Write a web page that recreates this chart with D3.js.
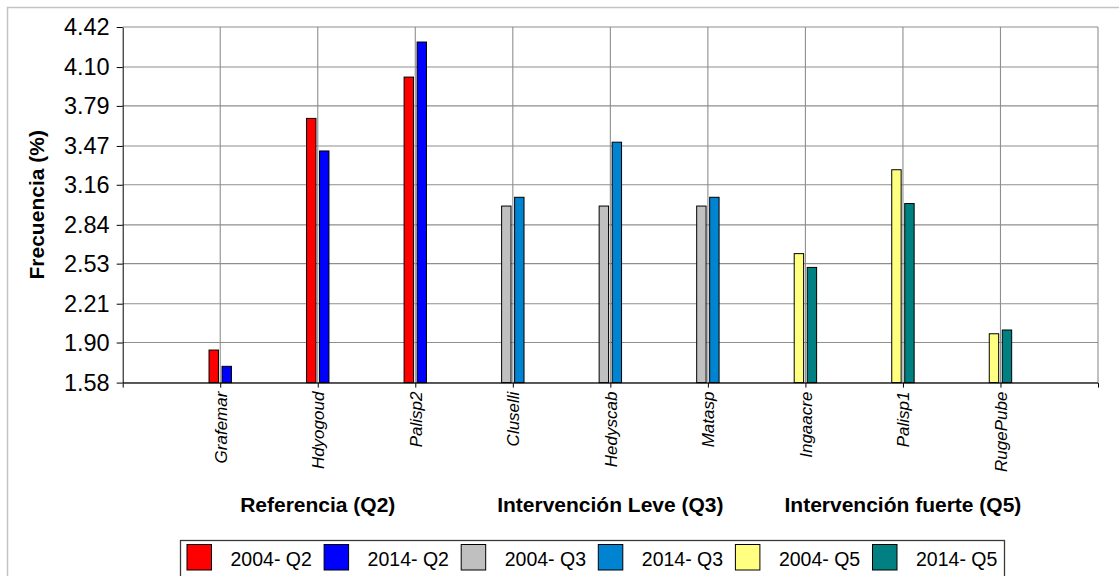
<!DOCTYPE html>
<html>
<head>
<meta charset="utf-8">
<script src="https://cdn.jsdelivr.net/npm/d3@7"></script>
<style>
  html, body { margin: 0; padding: 0; background: #fff; }
  svg { display: block; font-family: "Liberation Sans", Arial, sans-serif; }
</style>
</head>
<body>
<svg id="chart" width="1119" height="576"></svg>
<script>
// ---- data ----
const categories = ["Grafemar", "Hdyogoud", "Palisp2", "Cluselli", "Hedyscab", "Matasp", "Ingaacre", "Palisp1", "RugePube"];
const categoryGroup = ["Q2", "Q2", "Q2", "Q3", "Q3", "Q3", "Q5", "Q5", "Q5"];
const values2004 = [1.84, 3.69, 4.02, 2.99, 2.99, 2.99, 2.61, 3.28, 1.97];
const values2014 = [1.71, 3.43, 4.30, 3.06, 3.50, 3.06, 2.50, 3.01, 2.00];
const groupNames = ["Q2", "Q3", "Q5"];
const groupLabels = ["Referencia (Q2)", "Intervención Leve (Q3)", "Intervención fuerte (Q5)"];
const groupLabelAt = ["Hdyogoud", "Hedyscab", "Palisp1"];
const years = ["2004", "2014"];
const seriesNames = ["2004- Q2", "2014- Q2", "2004- Q3", "2014- Q3", "2004- Q5", "2014- Q5"];
const seriesColors = ["#ff0000", "#0000ff", "#c0c0c0", "#0084d1", "#ffff80", "#008080"];
const yTicks = [1.58, 1.90, 2.21, 2.53, 2.84, 3.16, 3.47, 3.79, 4.10, 4.42];
const yTitle = "Frecuencia (%)";

// ---- layout ----
const svg = d3.select("#chart");
const plotLeft = 122.7, plotRight = 1098, plotTop = 27, plotBottom = 382.6;

// outer chart border
svg.append("rect").attr("x", 7.5).attr("y", 7.5).attr("width", 1130).attr("height", 600)
  .attr("fill", "#fff").attr("stroke", "#c3c3c3").attr("stroke-width", 1.5);

const x = d3.scalePoint().domain(categories).range([plotLeft, plotRight]).padding(1);
const y = d3.scaleLinear().domain([1.58, 4.42]).range([plotBottom, plotTop]);
const step = x.step();
const xInner = d3.scaleBand().domain(years).range([-step * 0.12, step * 0.12]).paddingInner(0.2);

const colorFor = (year, grp) => seriesColors[seriesNames.indexOf(year + "- " + grp)];

// gridlines
const grid = svg.append("g");
grid.selectAll("line.h").data(yTicks).join("line")
  .attr("x1", plotLeft).attr("x2", plotRight)
  .attr("y1", d => y(d)).attr("y2", d => y(d))
  .attr("stroke", "#8e8e8e").attr("stroke-width", 1.1);
grid.selectAll("line.v").data(categories).join("line")
  .attr("x1", d => x(d)).attr("x2", d => x(d))
  .attr("y1", plotTop).attr("y2", plotBottom)
  .attr("stroke", "#8e8e8e").attr("stroke-width", 1.1);
grid.append("line").attr("x1", plotRight).attr("x2", plotRight).attr("y1", plotTop).attr("y2", plotBottom)
  .attr("stroke", "#8e8e8e").attr("stroke-width", 1.1);

// bars
const barData = [];
categories.forEach((c, i) => {
  barData.push({ cat: c, year: "2004", value: values2004[i], grp: categoryGroup[i] });
  barData.push({ cat: c, year: "2014", value: values2014[i], grp: categoryGroup[i] });
});
svg.append("g").selectAll("rect").data(barData).join("rect")
  .attr("x", d => x(d.cat) + xInner(d.year) + 0.5)
  .attr("width", xInner.bandwidth() - 1)
  .attr("y", d => y(d.value))
  .attr("height", d => plotBottom - y(d.value))
  .attr("fill", d => colorFor(d.year, d.grp))
  .attr("stroke", "#000").attr("stroke-width", 1);

// y axis
const yAxis = svg.append("g").attr("transform", `translate(${plotLeft},0)`)
  .call(d3.axisLeft(y).tickValues(yTicks).tickFormat(d3.format(".2f")).tickSize(6).tickSizeOuter(0).tickPadding(7));
yAxis.selectAll("text").attr("font-size", 23.5).attr("fill", "#000").attr("font-family", "'Liberation Sans', Arial, sans-serif");
yAxis.selectAll("line").attr("stroke", "#000");
yAxis.select(".domain").attr("stroke", "#000");

// x axis
const xAxis = svg.append("g").attr("transform", `translate(0,${plotBottom})`)
  .call(d3.axisBottom(x).tickSize(5).tickSizeOuter(5));
xAxis.select(".domain").attr("stroke", "#000");
xAxis.selectAll("line").attr("stroke", "#000");
xAxis.selectAll("text")
  .attr("transform", "rotate(-90)")
  .attr("x", -9).attr("y", 0).attr("dy", "0.35em")
  .attr("text-anchor", "end")
  .attr("font-size", 17).attr("font-style", "italic").attr("fill", "#000")
  .attr("font-family", "'Liberation Sans', Arial, sans-serif");

// group labels
svg.append("g").selectAll("text").data(groupNames).join("text")
  .attr("x", (d, i) => x(groupLabelAt[i]))
  .attr("y", 512)
  .attr("text-anchor", "middle")
  .attr("font-size", 21).attr("font-weight", "bold")
  .text((d, i) => groupLabels[i]);

// y title
svg.append("text")
  .attr("transform", `translate(44,${(plotTop + plotBottom) / 2}) rotate(-90)`)
  .attr("text-anchor", "middle")
  .attr("font-size", 21).attr("font-weight", "bold")
  .text(yTitle);

// legend
const lg = svg.append("g");
lg.append("rect").attr("x", 180.5).attr("y", 540.5).attr("width", 824).attr("height", 60)
  .attr("fill", "#fff").attr("stroke", "#3a3a3a").attr("stroke-width", 1.3);
const itemStep = 137.1;
const items = lg.selectAll("g.item").data(seriesNames).join("g")
  .attr("transform", (d, i) => `translate(${187 + i * itemStep},0)`);
items.append("rect").attr("x", 0).attr("y", 544.5).attr("width", 24.5).attr("height", 25.5)
  .attr("fill", (d, i) => seriesColors[i]).attr("stroke", "#000").attr("stroke-width", 1);
items.append("text").attr("x", 43.5).attr("y", 566)
  .attr("font-size", 19.5).attr("fill", "#000")
  .text(d => d);
</script>
</body>
</html>
